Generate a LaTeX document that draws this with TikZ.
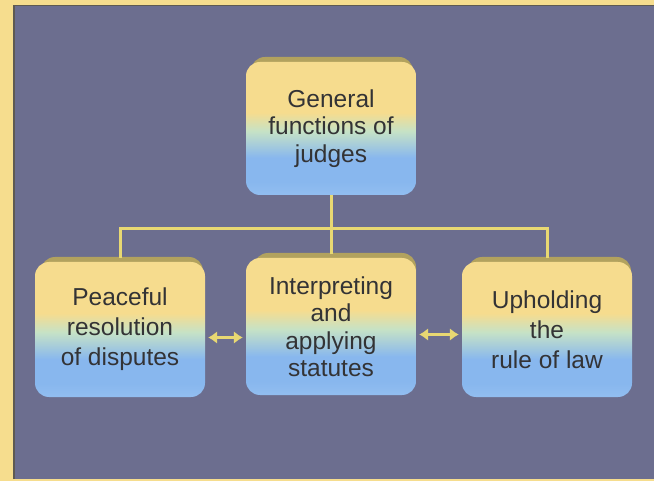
\documentclass[tikz,border=0pt]{standalone}
\usepackage{fontspec}
\setmainfont{Liberation Sans}
\usetikzlibrary{arrows.meta}
\definecolor{frameyellow}{HTML}{F6DD8E}
\definecolor{panel}{HTML}{6C6E8F}
\definecolor{paneledge}{HTML}{5E5A52}
\definecolor{boxyellow}{HTML}{F6DC8E}
\definecolor{boxgreen}{HTML}{C6E2C6}
\definecolor{boxblue}{HTML}{88B7EE}
\definecolor{boxbottom}{HTML}{92BEF0}
\definecolor{bevel}{HTML}{B2A25E}
\definecolor{linkyellow}{HTML}{E8D872}
\definecolor{textgrey}{HTML}{333335}
\pgfdeclareverticalshading{boxshade}{100bp}{color(0bp)=(boxbottom); color(25bp)=(boxbottom); color(30bp)=(boxblue); color(39bp)=(boxblue); color(49bp)=(boxgreen); color(56bp)=(boxyellow); color(75bp)=(boxyellow); color(100bp)=(boxyellow)}
\tikzset{
  fbox/.style={minimum width=170pt, minimum height=135pt, rounded corners=14pt,
    shading=boxshade, shading angle=0, inner sep=0pt, text=textgrey, align=center,
    font=\fontsize{24.5}{27.5}\selectfont},
  bevelbox/.style={fill=bevel, rounded corners=14pt},
  link/.style={draw=linkyellow, line width=3pt},
  dlink/.style={draw=linkyellow, line width=3pt, {Latex[length=9pt,width=13pt]}-{Latex[length=9pt,width=13pt]}, shorten <=3pt, shorten >=3pt}
}
\begin{document}
\begin{tikzpicture}[x=1pt,y=-1pt]
\useasboundingbox (0,0) rectangle (654,481);
\fill[frameyellow] (0,0) rectangle (654,481);
\fill[panel] (13,5) rectangle (654,479);
\draw[paneledge, line width=1.5pt] (13.75,479) -- (13.75,5.75) -- (654,5.75);
% bevels
\fill[bevelbox] (251,57) rectangle (413,120);
\fill[bevelbox] (41,257) rectangle (203,320);
\fill[bevelbox] (254,253) rectangle (416,316);
\fill[bevelbox] (468,257) rectangle (631,320);
% boxes
\node[fbox, minimum height=133pt] (top) at (331,128.5) {General\\functions of\\judges};
\node[fbox, font=\fontsize{24.5}{30}\selectfont] (left) at (120,329.5) {Peaceful\\resolution\\of disputes};
\node[fbox, minimum height=137pt] (mid) at (331,326.5) {Interpreting\\and\\applying\\statutes};
\node[fbox, font=\fontsize{24.5}{30}\selectfont] (right) at (547,329.5) {Upholding\\the\\rule of law};
% connectors
\coordinate (jl) at (120,229);
\coordinate (jr) at (547,229);
\draw[link] (top.south) -- ([yshift=4pt]mid.north);
\draw[link] ([yshift=4pt]left.north) -- (jl) -- (jr) -- ([yshift=4pt]right.north);
\draw[dlink] ([yshift=-8pt]left.east) -- ([yshift=-8pt]left.east -| mid.west);
\draw[dlink] ([yshift=-8pt]mid.east) -- ([yshift=-8pt]mid.east -| right.west);
\end{tikzpicture}
\end{document}
